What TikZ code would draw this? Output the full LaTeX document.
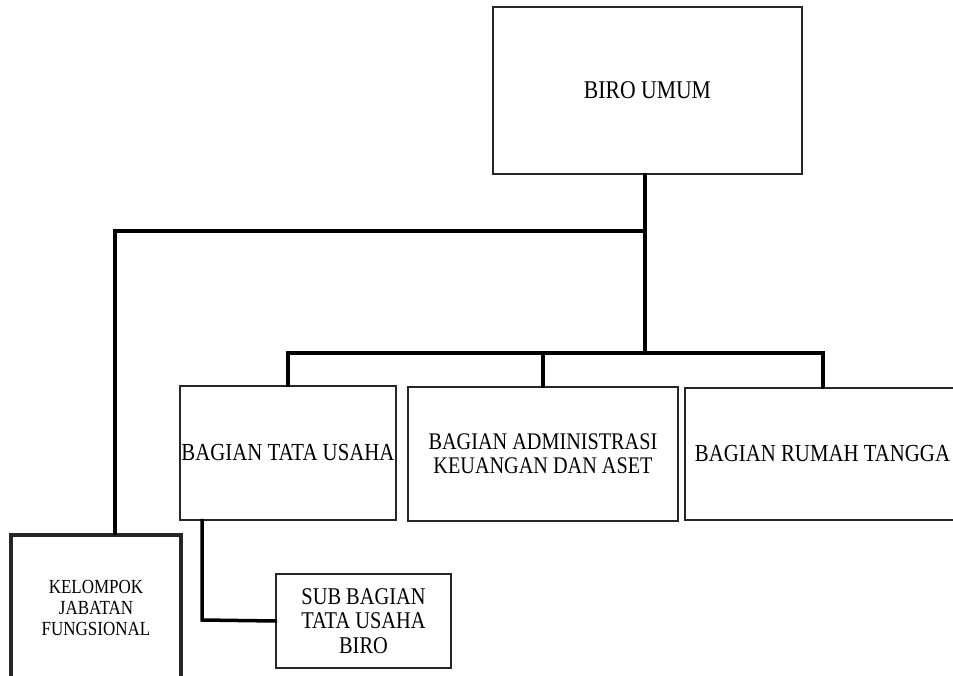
\documentclass[tikz,border=0pt]{standalone}
\usepackage{fontspec}
\setmainfont{Liberation Serif}[FakeStretch=0.85]
\begin{document}
\begin{tikzpicture}[x=1pt,y=-1pt,
  box/.style={draw=black!85, line width=1.3pt, fill=white, inner sep=0pt, align=center, font=\fontsize{24.5}{24.5}\selectfont},
  conn/.style={line width=3.5pt, line cap=rect}]
\useasboundingbox (0,0) rectangle (953,676);
\node[box, minimum width=309pt, minimum height=167pt, font=\fontsize{25.5}{25.5}\selectfont] (biro) at (647.5,90.5) {BIRO UMUM};
\node[box, minimum width=216pt, minimum height=134pt] (tu) at (288,453) {BAGIAN TATA USAHA};
\node[box, minimum width=270pt, minimum height=134pt, font=\fontsize{23.8}{24}\selectfont] (adm) at (543,454) {BAGIAN ADMINISTRASI\\KEUANGAN DAN ASET};
\node[box, minimum width=275pt, minimum height=132pt] (rt) at (822.5,454) {BAGIAN RUMAH TANGGA};
\node[box, line width=3.5pt, minimum width=170pt, minimum height=145pt, font=\fontsize{20}{21}\selectfont] (kel) at (96,607.5) {KELOMPOK\\JABATAN\\FUNGSIONAL};
\node[box, minimum width=175pt, minimum height=94pt, font=\fontsize{24}{24.5}\selectfont] (sub) at (363.5,621) {SUB BAGIAN\\TATA USAHA\\BIRO};
\coordinate (j1) at (645,231);
\coordinate (j2) at (645,353);
\coordinate (l1) at (115,231);
\coordinate (h1) at (288,353);
\coordinate (h2) at (823,353);
\coordinate (s1) at (202,620);
\draw[conn] (j1 |- biro.south) -- (j2);
\draw[conn] (j1) -- (l1) -- (l1 |- kel.north);
\draw[conn] (h1) -- (h2);
\draw[conn] (h1) -- (tu.north);
\draw[conn] (adm.north |- h1) -- (adm.north);
\draw[conn] (h2) -- (h2 |- rt.north);
\draw[conn] (s1 |- tu.south) -- (s1) -- (sub.west);
\end{tikzpicture}
\end{document}
